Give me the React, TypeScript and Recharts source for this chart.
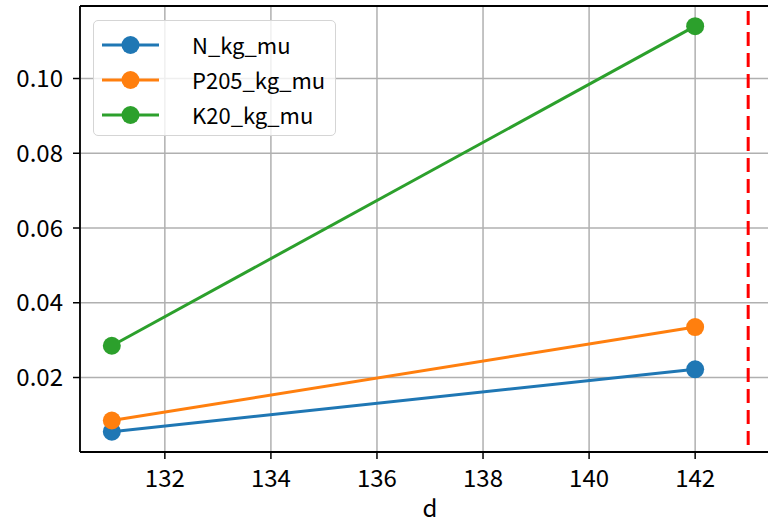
import React from 'react';
import { LineChart, Line, XAxis, YAxis, CartesianGrid, ReferenceLine } from 'recharts';

const DAYS = [131, 142];
const N_KG_MU = [0.0055, 0.0222];
const P205_KG_MU = [0.0085, 0.0335];
const K20_KG_MU = [0.0285, 0.114];
const SERIES_NAMES = ['N_kg_mu', 'P205_kg_mu', 'K20_kg_mu'];
const COLORS = ['#1f77b4', '#ff7f0e', '#2ca02c'];
const X_TICKS = [132, 134, 136, 138, 140, 142];
const Y_TICKS = [0.02, 0.04, 0.06, 0.08, 0.1];
const X_DOMAIN = [130.4, 143.6];
const Y_DOMAIN = [0.00007, 0.1194];
const CUTOFF_DAY = 143;

const data = DAYS.map((d, i) => ({
  d,
  N_kg_mu: N_KG_MU[i],
  P205_kg_mu: P205_KG_MU[i],
  K20_kg_mu: K20_KG_MU[i],
}));

const FONT = '"Noto Sans CJK SC", "Noto Sans", sans-serif';

function LegendBox() {
  return (
    <div
      style={{
        position: 'absolute',
        left: 93,
        top: 20,
        width: 241,
        height: 114,
        background: 'rgba(255,255,255,0.8)',
        border: '1.5px solid #d5d5d5',
        borderRadius: 5,
        fontFamily: FONT,
        fontSize: 22,
        color: '#000',
      }}
    >
      {SERIES_NAMES.map((name, i) => (
        <div
          key={name}
          style={{ position: 'absolute', left: 0, top: 6 + i * 35, height: 35, display: 'flex', alignItems: 'center' }}
        >
          <svg width={70} height={24} style={{ marginLeft: 8 }}>
            <line x1={0} y1={12} x2={57} y2={12} stroke={COLORS[i]} strokeWidth={3} />
            <circle cx={28.5} cy={12} r={9} fill={COLORS[i]} />
          </svg>
          <span style={{ marginLeft: 20, lineHeight: '35px' }}>{name}</span>
        </div>
      ))}
    </div>
  );
}

export default function App() {
  return (
    <div style={{ position: 'relative', width: 768, height: 523, overflow: 'hidden', background: '#fff' }}>
      <style>{'body { margin: 0; overflow: hidden; }'}</style>
      <LineChart
        width={790}
        height={523}
        data={data}
        margin={{ top: 6, right: 10, left: 0, bottom: 0 }}
        style={{ fontFamily: FONT }}
      >
        <CartesianGrid stroke="#b0b0b0" strokeWidth={1.5} />
        <XAxis
          dataKey="d"
          type="number"
          domain={X_DOMAIN}
          ticks={X_TICKS}
          allowDataOverflow
          height={71}
          tickSize={7}
          tickMargin={11}
          fontSize={24}
          axisLine={{ stroke: '#000', strokeWidth: 1.8 }}
          tickLine={{ stroke: '#000', strokeWidth: 1.5 }}
          tick={{ fill: '#000', fontSize: 24 }}
          label={{ value: 'd', position: 'insideTop', offset: 48, fill: '#000', fontSize: 24 }}
        />
        <YAxis
          type="number"
          domain={Y_DOMAIN}
          ticks={Y_TICKS}
          allowDataOverflow
          width={80}
          tickSize={7}
          tickMargin={10}
          fontSize={24}
          axisLine={{ stroke: '#000', strokeWidth: 1.8 }}
          tickLine={{ stroke: '#000', strokeWidth: 1.5 }}
          tick={{ fill: '#000', fontSize: 24 }}
          tickFormatter={(v: number) => v.toFixed(2)}
        />
        <ReferenceLine y={Y_DOMAIN[1]} stroke="#000" strokeWidth={2} />
        {SERIES_NAMES.map((name, i) => (
          <Line
            key={name}
            dataKey={name}
            stroke={COLORS[i]}
            strokeWidth={3}
            dot={{ r: 9, fill: COLORS[i], stroke: COLORS[i], strokeWidth: 0 }}
            isAnimationActive={false}
          />
        ))}
        <ReferenceLine
          x={CUTOFF_DAY}
          stroke="#ff0000"
          strokeWidth={3}
          strokeDasharray="14 7"
          strokeDashoffset={14}
        />
      </LineChart>
      <LegendBox />
    </div>
  );
}
